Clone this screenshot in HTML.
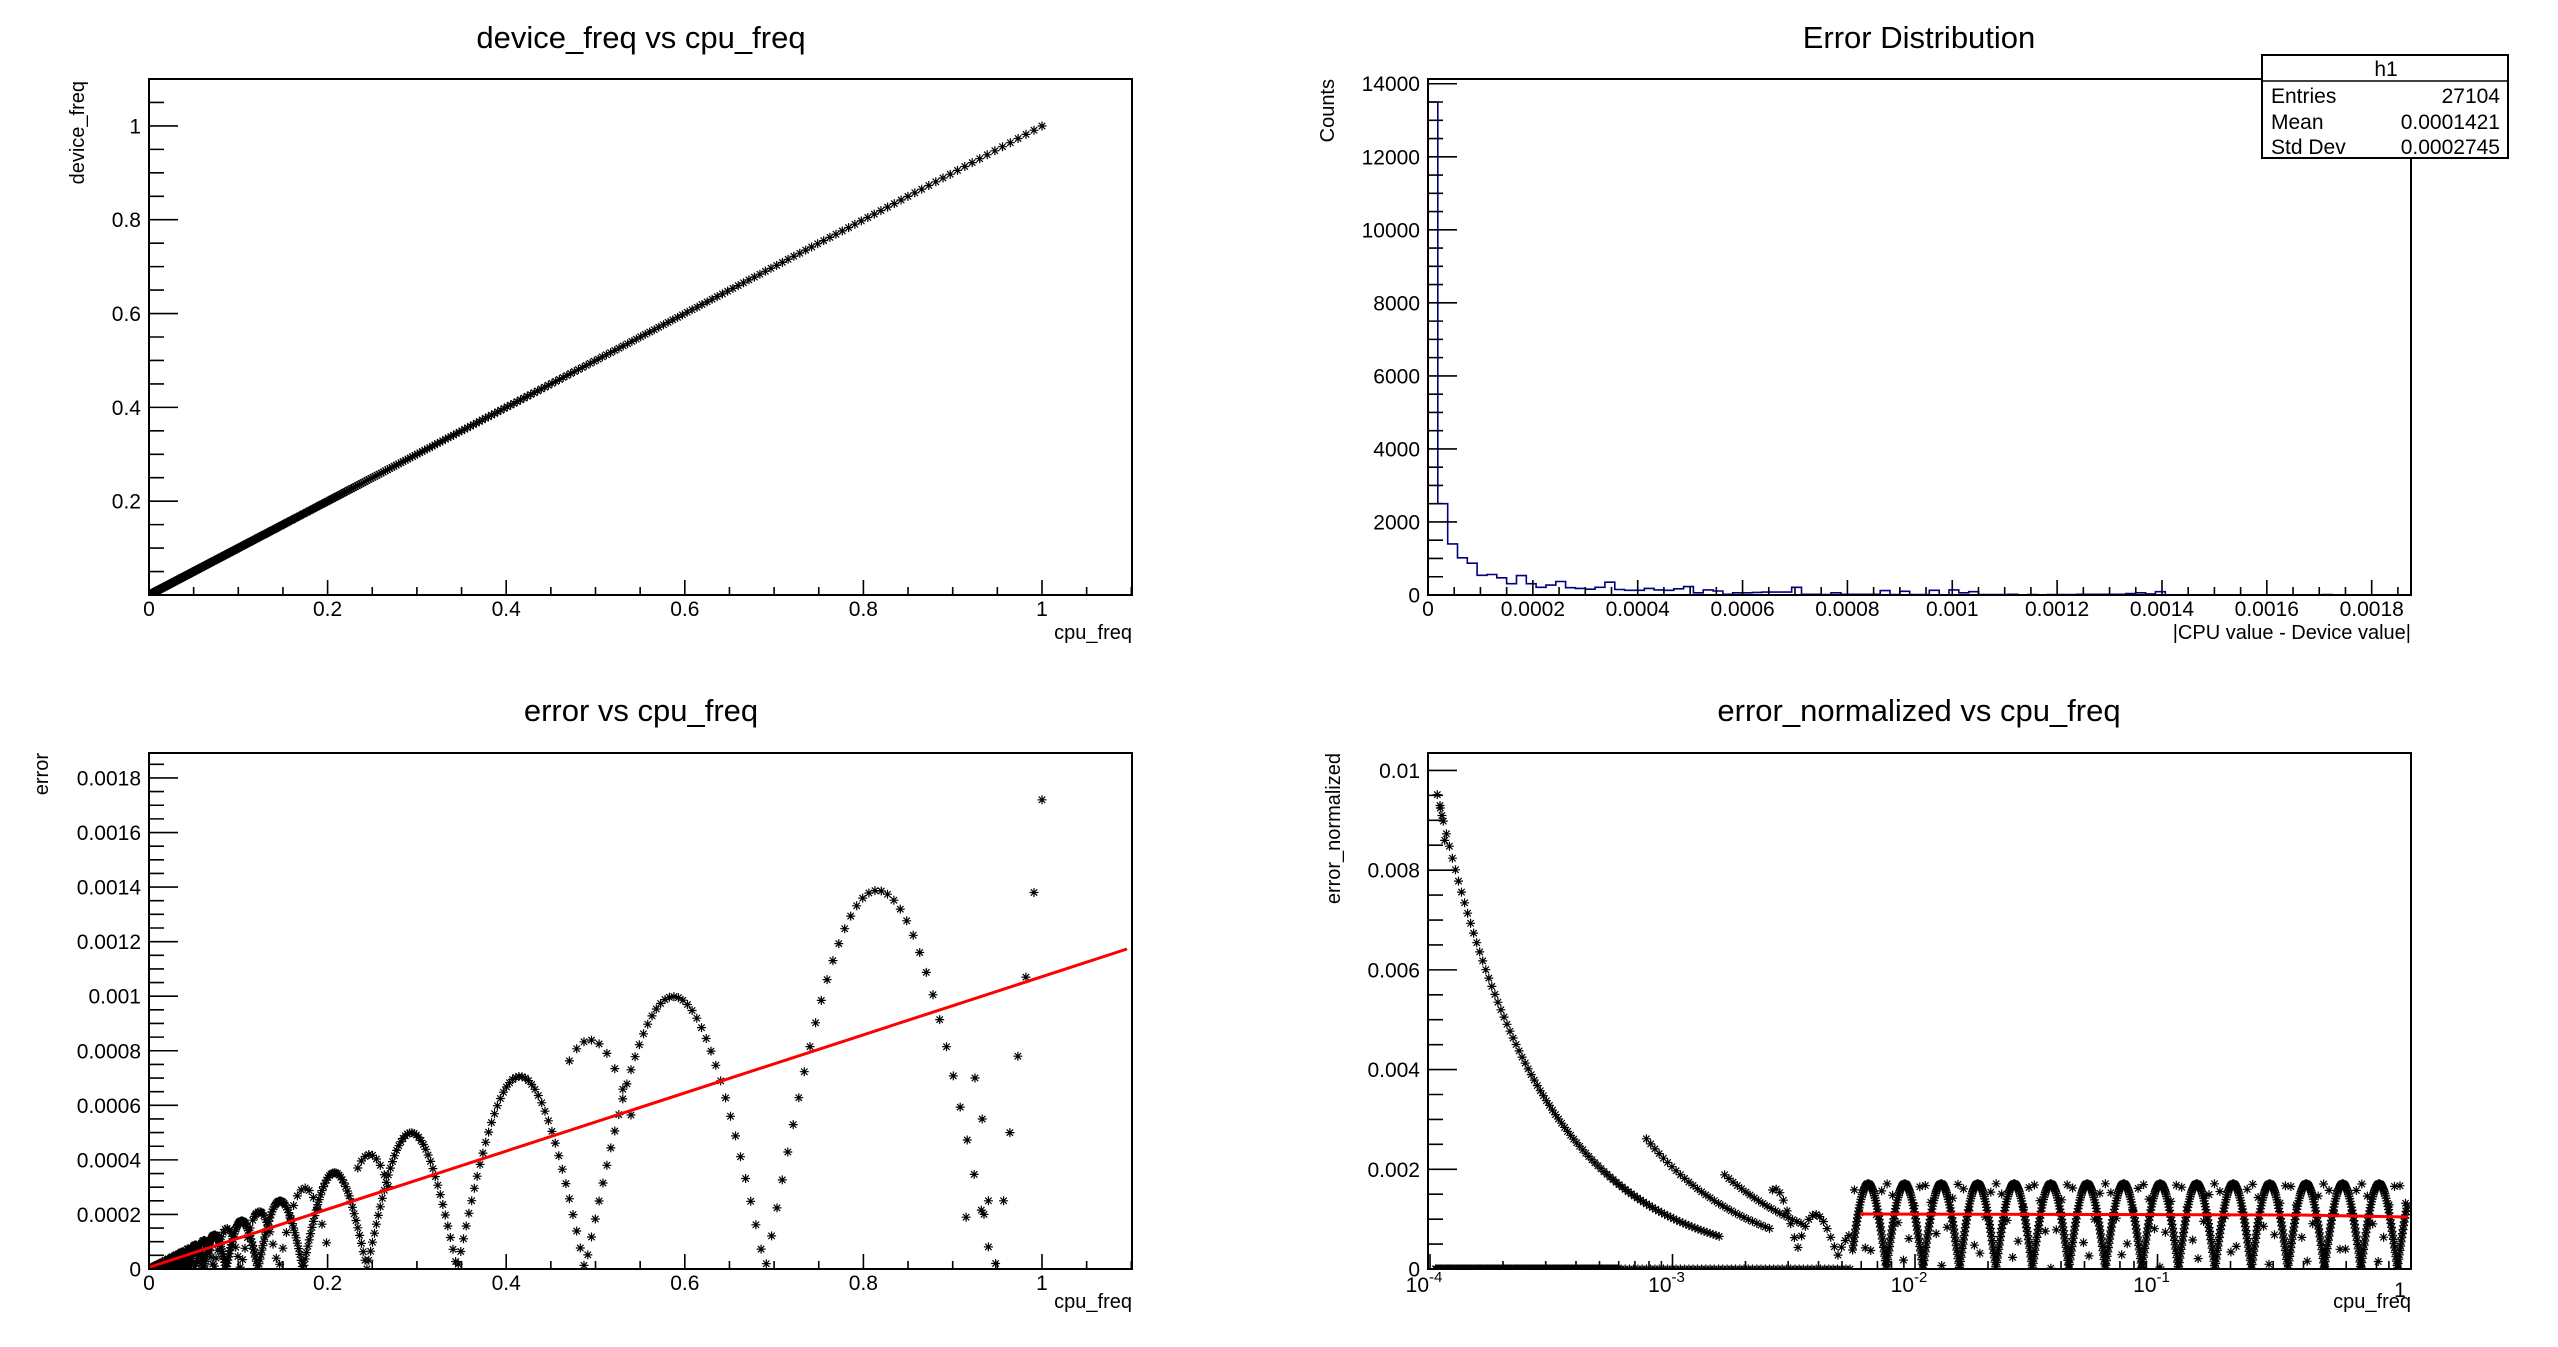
<!DOCTYPE html>
<html><head><meta charset="utf-8"><style>
html,body{margin:0;padding:0;background:#fff;}
svg{display:block;font-family:"Liberation Sans",Arial,sans-serif;}
</style></head><body>
<svg id="s" width="2558" height="1347" viewBox="0 0 2558 1347" xmlns="http://www.w3.org/2000/svg">
<defs>
<clipPath id="c1"><rect x="149" y="79" width="983" height="516"/></clipPath>
<clipPath id="c2"><rect x="1428" y="79" width="983" height="516"/></clipPath>
<clipPath id="c3"><rect x="149" y="753" width="983" height="516"/></clipPath>
<clipPath id="c4"><rect x="1428" y="753" width="983" height="516"/></clipPath>
</defs>
<rect width="2558" height="1347" fill="#fff"/>
<g id="g"></g>
</svg>
<script>
var out=[];
function T(x,y,s,txt,anchor,extra){out.push('<text x="'+x+'" y="'+y+'" font-size="'+s+'" text-anchor="'+(anchor||'start')+'" '+(extra||'')+'>'+txt+'</text>');}
function L(x1,y1,x2,y2){return 'M'+x1+','+y1+'L'+x2+','+y2;}
function star(x,y){var r=4.5,d=3.2;return 'M'+(x-r).toFixed(1)+','+y.toFixed(1)+'h'+(2*r)+'M'+x.toFixed(1)+','+(y-r).toFixed(1)+'v'+(2*r)+'M'+(x-d).toFixed(1)+','+(y-d).toFixed(1)+'l'+(2*d)+','+(2*d)+'M'+(x-d).toFixed(1)+','+(y+d).toFixed(1)+'l'+(2*d)+','+(-2*d);}
function frame(x0,y0,x1,y1){out.push('<rect x="'+x0+'" y="'+y0+'" width="'+(x1-x0)+'" height="'+(y1-y0)+'" fill="none" stroke="#000" stroke-width="2"/>');}
function xaxis(x0,x1,yb,vmin,vmax,major,minor,labfn,lblY){
  var p='';var px=function(v){return x0+(v-vmin)/(vmax-vmin)*(x1-x0);};
  for(var v=vmin;v<=vmax+1e-12;v+=minor){var isM=Math.abs(v/major-Math.round(v/major))<1e-6;var X=px(v);p+=L(X,yb,X,yb-(isM?15:8));
    if(isM) T(X.toFixed(1),lblY,21,labfn(v),'middle');}
  out.push('<path d="'+p+'" stroke="#000" stroke-width="1.6" fill="none"/>');
}
function yaxis(xl,y0,y1,vmin,vmax,major,minor,labfn,startAt){
  var p='';var py=function(v){return y1-(v-vmin)/(vmax-vmin)*(y1-y0);};
  for(var v=vmin;v<=vmax+1e-12;v+=minor){var isM=Math.abs(v/major-Math.round(v/major))<1e-6;var Y=py(v);p+=L(xl,Y,xl+(isM?29:15),Y);
    if(isM && v>=startAt-1e-12) T(xl-8,(Y+7.5).toFixed(1),21,labfn(v),'end');}
  out.push('<path d="'+p+'" stroke="#000" stroke-width="1.6" fill="none"/>');
}
T(641,48,31,'device_freq vs cpu_freq','middle');
T(1919,48,31,'Error Distribution','middle');
T(641,721,31,'error vs cpu_freq','middle');
T(1919,721,31,'error_normalized vs cpu_freq','middle');
T(1132,639,20,'cpu_freq','end');
T(2411,639,20,'|CPU value - Device value|','end');
T(1132,1308,20,'cpu_freq','end');
T(2411,1308,20,'cpu_freq','end');
T(0,0,20,'device_freq','end','transform="translate(84,81) rotate(-90)"');
T(0,0,20,'Counts','end','transform="translate(1334,79) rotate(-90)"');
T(0,0,20,'error','end','transform="translate(48,753) rotate(-90)"');
T(0,0,20,'error_normalized','end','transform="translate(1340,753) rotate(-90)"');

// ===== Plot 1
var X1=function(v){return 149+v*893;}, Y1=function(v){return 595-v*469;};
var d='';
for(var x=1;x>1e-4;x*=0.991){d+=star(X1(x),Y1(x));}
out.push('<path d="'+d+'" stroke="#000" stroke-width="1.2" fill="none" clip-path="url(#c1)"/>');
frame(149,79,1132,595);
xaxis(149,1131.3,595,0,1.1,0.2,0.05,function(v){return v<1e-9?'0':(+v.toFixed(1)).toString();},616);
yaxis(149,79,595,0,1.1,0.2,0.05,function(v){return (+v.toFixed(1)).toString();},0.2);

// ===== Plot 2
var counts=[13500,2500,1400,1020,870,540,560,470,310,530,310,210,270,370,200,180,160,210,350,150,130,130,180,140,130,170,230,60,140,110,20,60,60,70,80,80,80,210,20,20,10,60,20,20,20,20,120,10,100,10,10,130,0,140,60,90,10,10,10,20,0,10,0,10,10,10,20,20,20,20,20,40,60,80,100,0,0,0,0,0,0,0,0,0,0,0,0,0,0,0,0,0,0,0,0,0,0,0,0,0];
counts[73]=30;counts[74]=90;counts[91]=15;
var bw=983/100;var hp='M1428,595';
for(var i=0;i<100;i++){var y=595-counts[i]*516/14130;var x=1428+i*bw;hp+='V'+y.toFixed(1)+'H'+(x+bw).toFixed(1);}
hp+='V595';
out.push('<path d="'+hp+'" stroke="#00007f" stroke-width="1.6" fill="none" clip-path="url(#c2)"/>');
frame(1428,79,2411,595);
xaxis(1428,2411,595,0,0.001875,0.0002,0.00005,function(v){if(v<1e-12)return '0';return (+v.toFixed(4)).toString();},616);
yaxis(1428,79,595,0,14130,2000,500,function(v){return Math.round(v).toString();},0);
out.push('<rect x="2262" y="55" width="246" height="103" fill="#fff" stroke="#000" stroke-width="2"/>');
out.push('<path d="M2262,81H2508" stroke="#000" stroke-width="1.6"/>');
T(2386,76,21,'h1','middle');
T(2271,103,21,'Entries');T(2500,103,21,'27104','end');
T(2271,129,21,'Mean');T(2500,129,21,'0.0001421','end');
T(2271,154,21,'Std Dev');T(2500,154,21,'0.0002745','end');

// ===== Plot 3
var X3=function(v){return 149+v*893;}, Y3=function(v){return 1269-v*272800;};
function ph(x){var l=Math.log(x)/Math.LN2;if(x>0.69)return -0.5+(l+0.535)/0.453*0.5;return l+0.035;}
function ef(x,o){return 0.00171*x*Math.abs(Math.sin(2*Math.PI*(ph(x)+o)));}
d='';var k=0;
for(var x=0.94;x>2e-3;x*=0.9915){k++;d+=star(X3(x),Y3(ef(x,0)));
  var l2=Math.log(x)/Math.LN2;var fr=l2-Math.round(l2);
  if(fr>-0.1&&fr<0.12&&k%2==0&&x<0.9) d+=star(X3(x),Y3(ef(x,0.25)));
  if(x<0.2&&k%3==0) d+=star(X3(x),Y3(ef(x,0.25)));}
[[0.948,0.00002],[0.957,0.00025],[0.964,0.0005],[0.973,0.00078],[0.982,0.00107],[0.991,0.00138],[1.0,0.00172],[0.925,0.0007],[0.933,0.00055],[0.94,0.00025],[0.935,0.0002],[0.915,0.00019]].forEach(function(p){d+=star(X3(p[0]),Y3(p[1]));});
out.push('<path d="'+d+'" stroke="#000" stroke-width="1.2" fill="none" clip-path="url(#c3)"/>');
out.push('<path d="M150,1267L1127,949" stroke="#f00" stroke-width="3" fill="none"/>');
frame(149,753,1132,1269);
xaxis(149,1131.3,1269,0,1.1,0.2,0.05,function(v){return v<1e-9?'0':(+v.toFixed(1)).toString();},1290);
yaxis(149,753,1269,0,0.0018915,0.0002,0.00005,function(v){return v<1e-12?'0':(+v.toFixed(4)).toString();},0);

// ===== Plot 4
var X4=function(v){return 1430+(Math.log(v)/Math.LN10+4)*242.5;}, Y4=function(v){return 1269-v*49840;};
function en(x,o){return 0.00171*Math.abs(Math.sin(2*Math.PI*(Math.log(x)/Math.LN2+0.035+o)));}
d='';k=0;
for(var lx=-4+0.02;lx<0.03;lx+=0.0025){var x=Math.pow(10,lx);k++;
  if(x>0.0055){d+=star(X4(x),Y4(en(x,0)));if(k%9==0)d+=star(X4(x),Y4(en(x,0.25)));}
  else {
    if((x<6e-4&&k%2==0)||(k%7==0)) d+=star(X4(x),Y4(0));
    if(k%5==0 && x<1.6e-3 && x>1.05e-4) d+=star(X4(x),Y4(1.02e-6/x));
    if(k%7==0 && x>7.5e-4 && x<2.6e-3) d+=star(X4(x),Y4(2.04e-6/x));
    if(k%7==3 && x>1.6e-3 && x<3.5e-3) d+=star(X4(x),Y4(3.1e-6/x));
    if(k%6==0 && x>2.5e-3) d+=star(X4(x),Y4(Math.min(0.0019,4.3e-6/x)*(0.3+0.7*Math.abs(Math.sin(k)))));
  }}
d+=star(X4(1.1e-4),Y4(0.0093))+star(X4(1.12e-4),Y4(0.0091))+star(X4(1.15e-4),Y4(0.0086));
out.push('<path d="'+d+'" stroke="#000" stroke-width="1.2" fill="none" clip-path="url(#c4)"/>');
out.push('<path d="M1860,1214L2300,1215L2408,1217" stroke="#f00" stroke-width="3" fill="none"/>');
frame(1428,753,2411,1269);
var p='';
for(var e=-4;e<=0;e++){for(var m=1;m<10;m++){var v=m*Math.pow(10,e);if(v>1.105)break;var X=X4(v);p+=L(X,1269,X,1269-(m==1?15:8));}}
out.push('<path d="'+p+'" stroke="#000" stroke-width="1.6" fill="none"/>');
['-4','-3','-2','-1'].forEach(function(s,i){var X=1430+i*242.5;out.push('<text x="'+(X-6)+'" y="1292" font-size="21" text-anchor="middle">10<tspan font-size="15" dy="-10">'+s+'</tspan></text>');});
T(2400,1297,21,'1','middle');
yaxis(1428,753,1269,0,0.01035,0.002,0.0005,function(v){return v<1e-12?'0':(+v.toFixed(3)).toString();},0);

document.getElementById('g').innerHTML=out.join('');
</script>
</body></html>
